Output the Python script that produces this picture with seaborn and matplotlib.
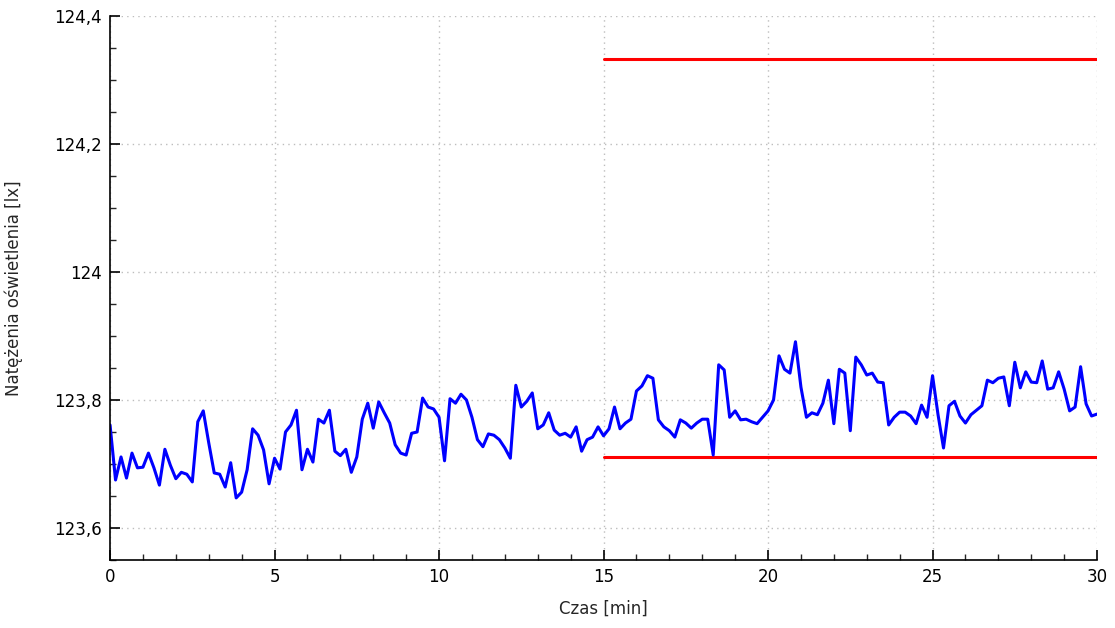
import numpy as np
import pandas as pd
import seaborn as sns
import matplotlib.pyplot as plt
from matplotlib.ticker import MultipleLocator, FuncFormatter

# illuminance readings, one every 10 s over 30 min
lux = [
    123.761, 123.675, 123.711, 123.678, 123.717, 123.694, 123.695, 123.717, 123.694, 123.667,
    123.723, 123.698, 123.677, 123.687, 123.684, 123.672, 123.766, 123.783, 123.733, 123.686,
    123.684, 123.664, 123.702, 123.647, 123.656, 123.691, 123.755, 123.745, 123.722, 123.669,
    123.709, 123.692, 123.750, 123.761, 123.784, 123.691, 123.723, 123.703, 123.770, 123.764,
    123.784, 123.720, 123.713, 123.723, 123.687, 123.711, 123.770, 123.795, 123.756, 123.797,
    123.780, 123.764, 123.730, 123.717, 123.714, 123.748, 123.750, 123.803, 123.789, 123.786,
    123.773, 123.705, 123.802, 123.795, 123.809, 123.800, 123.773, 123.738, 123.727, 123.747,
    123.745, 123.738, 123.725, 123.709, 123.823, 123.789, 123.798, 123.811, 123.755, 123.761,
    123.780, 123.753, 123.745, 123.748, 123.742, 123.758, 123.720, 123.738, 123.742, 123.758,
    123.744, 123.755, 123.789, 123.755, 123.764, 123.770, 123.814, 123.822, 123.838, 123.834,
    123.769, 123.758, 123.752, 123.742, 123.769, 123.764, 123.756, 123.764, 123.770, 123.770,
    123.714, 123.855, 123.847, 123.773, 123.783, 123.769, 123.770, 123.766, 123.763, 123.773,
    123.783, 123.800, 123.869, 123.848, 123.842, 123.891, 123.820, 123.773, 123.780, 123.777,
    123.795, 123.831, 123.763, 123.848, 123.842, 123.752, 123.867, 123.855, 123.839, 123.842,
    123.828, 123.827, 123.761, 123.773, 123.781, 123.781, 123.775, 123.763, 123.792, 123.773,
    123.838, 123.777, 123.725, 123.791, 123.798, 123.775, 123.764, 123.777, 123.784, 123.791,
    123.831, 123.827, 123.834, 123.836, 123.791, 123.859, 123.819, 123.844, 123.828, 123.827,
    123.861, 123.817, 123.819, 123.844, 123.817, 123.783, 123.789, 123.852, 123.794, 123.775,
    123.778,
]
t_start, t_end = 0, 30
limit_from, limit_to = 15, 30
upper_limit = 124.333
lower_limit = 123.711

sns.set_style("white")
plt.rcParams["font.family"] = ["DejaVu Sans"]

df = pd.DataFrame({"czas": np.linspace(t_start, t_end, len(lux)), "lux": lux})
limits = pd.DataFrame({
    "czas": [limit_from, limit_to, limit_from, limit_to],
    "lux": [upper_limit, upper_limit, lower_limit, lower_limit],
    "which": ["upper", "upper", "lower", "lower"],
})

fig = plt.figure(figsize=(11.15, 6.28), dpi=100)
ax = fig.add_axes([0.0987, 0.1083, 0.8852, 0.8662])

sns.lineplot(data=limits, x="czas", y="lux", units="which", estimator=None,
             color="#ff0000", linewidth=2.2, ax=ax)
sns.lineplot(data=df, x="czas", y="lux", color="#0000ff", linewidth=2.2, ax=ax)

ax.set_xlim(0, 30)
ax.set_ylim(123.55, 124.4)
ax.xaxis.set_major_locator(MultipleLocator(5))
ax.xaxis.set_minor_locator(MultipleLocator(1))
ax.yaxis.set_major_locator(MultipleLocator(0.2))
ax.yaxis.set_minor_locator(MultipleLocator(0.05))
ax.yaxis.set_major_formatter(FuncFormatter(lambda v, p: f"{round(v, 1):g}".replace(".", ",")))

ax.grid(True, which="major", color="#bdbdbd", linestyle=(0, (1, 3)), linewidth=1)
for side in ("top", "right"):
    ax.spines[side].set_visible(False)
for side in ("left", "bottom"):
    ax.spines[side].set_color("black")
    ax.spines[side].set_linewidth(1.2)
ax.tick_params(which="major", direction="in", length=7, width=1.2, labelsize=12,
               left=True, bottom=True, colors="black", pad=6)
ax.tick_params(which="minor", direction="in", length=4, width=1, left=True, bottom=True)

ax.set_xlabel("Czas [min]", fontsize=12, labelpad=10)
ax.set_ylabel("Natężenia oświetlenia [lx]", fontsize=12, labelpad=22)

fig.savefig("out.png", dpi=100)
